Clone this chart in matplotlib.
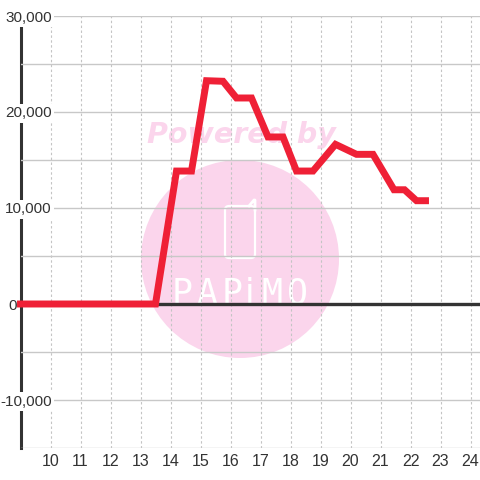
import matplotlib
matplotlib.use("Agg")
import matplotlib.pyplot as plt
from matplotlib.patches import Circle, FancyBboxPatch
from matplotlib.ticker import FixedLocator
from matplotlib.transforms import blended_transform_factory

hours = [9, 13.5, 14.2, 14.7, 15.2, 15.75, 16.2, 16.7, 17.25, 17.75, 18.2, 18.75,
         19.5, 20.2, 20.75, 21.45, 21.8, 22.2, 22.5]
values = [0, 0, 13850, 13850, 23260, 23200, 21460, 21460, 17400, 17400, 13850, 13850,
          16630, 15590, 15590, 11900, 11900, 10760, 10760]
x_ticks = list(range(10, 25))
y_ticks = [-10000, 0, 10000, 20000, 30000]
y_minor = [-15000, -5000, 5000, 15000, 25000]

PX = 1 / 100
plt.rcParams["font.family"] = ["Liberation Sans", "DejaVu Sans"]
fig = plt.figure(figsize=(4.8, 4.8), dpi=100, facecolor="white")
L, B, T = 20.5 / 480, 32 / 480, 464 / 480
ax = fig.add_axes([L, B, 1 - L, T - B], facecolor="white")
ax.set_xlim(9, 9 + (480 - 20.5) / 30)
ax.set_ylim(-15000, 30000)

for s in ("top", "right", "bottom"):
    ax.spines[s].set_visible(False)
ax.spines["left"].set_color("#333333")
ax.spines["left"].set_linewidth(2.2)
ax.spines["left"].set_zorder(2)

# watermark, behind the grid
pink = "#fbd5ec"
tr = fig.dpi_scale_trans
ax.add_patch(Circle((240 * PX, (480 - 259) * PX), 99 * PX, transform=tr,
                    facecolor=pink, edgecolor="none", zorder=1, clip_on=False))
ax.add_patch(FancyBboxPatch((225 * PX, (480 - 258) * PX), 30 * PX, 52 * PX,
                            boxstyle=f"round,pad=0,rounding_size={4 * PX}", transform=tr,
                            facecolor="none", edgecolor="white", linewidth=1.6,
                            zorder=1.1, clip_on=False))
ax.plot([249 * PX, 254 * PX, 255 * PX, 255 * PX],
        [(480 - 206) * PX, (480 - 200) * PX, (480 - 200) * PX, (480 - 210) * PX],
        transform=tr, color="white", linewidth=2.0, zorder=1.1, clip_on=False)
ax.text(241 * PX, (480 - 135) * PX, "Powered by", transform=tr, color=pink, fontsize=20.5,
        fontweight="bold", style="italic", family="DejaVu Sans", ha="center", va="center",
        zorder=1.1)
for xp, ch, fam in zip([182, 207, 232, 250, 272, 297], "PAPiMO",
                       ["DejaVu Sans Mono"] * 3 + ["DejaVu Sans"] + ["DejaVu Sans Mono"] * 2):
    ax.text(xp * PX, (480 - 304) * PX, ch, transform=tr, color="white", fontsize=25,
            family=fam, ha="center", va="baseline", zorder=1.1)

# axes, grid and labels
ax.set_axisbelow(False)
ax.xaxis.set_zorder(3)
ax.yaxis.set_zorder(3)
ax.set_xticks(x_ticks)
ax.set_yticks(y_ticks)
ax.set_yticklabels([])
ax.yaxis.set_minor_locator(FixedLocator(y_minor))
ax.tick_params(axis="both", which="both", length=0)
ax.tick_params(axis="x", labelsize=11.5, labelcolor="#333333", pad=4)
ax.grid(True, axis="x", color="#c4c4c4", linewidth=0.8, linestyle=(0, (2.2, 2.2)))
ax.grid(True, axis="y", which="both", color="#c8c8c8", linewidth=1.0, linestyle="-")

# value labels sit inside the plot on a white plate
label_tr = blended_transform_factory(fig.dpi_scale_trans, ax.transData)
for v in y_ticks:
    right = 16.5 if v == 0 else 52
    ax.text(right * PX, v, f"{v:,}", transform=label_tr, ha="right", va="center_baseline",
            fontsize=11, color="#333333", zorder=3.2, clip_on=False,
            bbox=None if v == 0 else dict(facecolor="white", edgecolor="none", pad=1.5))

ax.axhline(0, color="#333333", linewidth=2.4, zorder=3.5)
ax.plot(hours, values, color="#ef2036", linewidth=5.0, solid_capstyle="projecting",
        solid_joinstyle="miter", zorder=4, clip_on=False)

fig.savefig("out.png", dpi=100)
